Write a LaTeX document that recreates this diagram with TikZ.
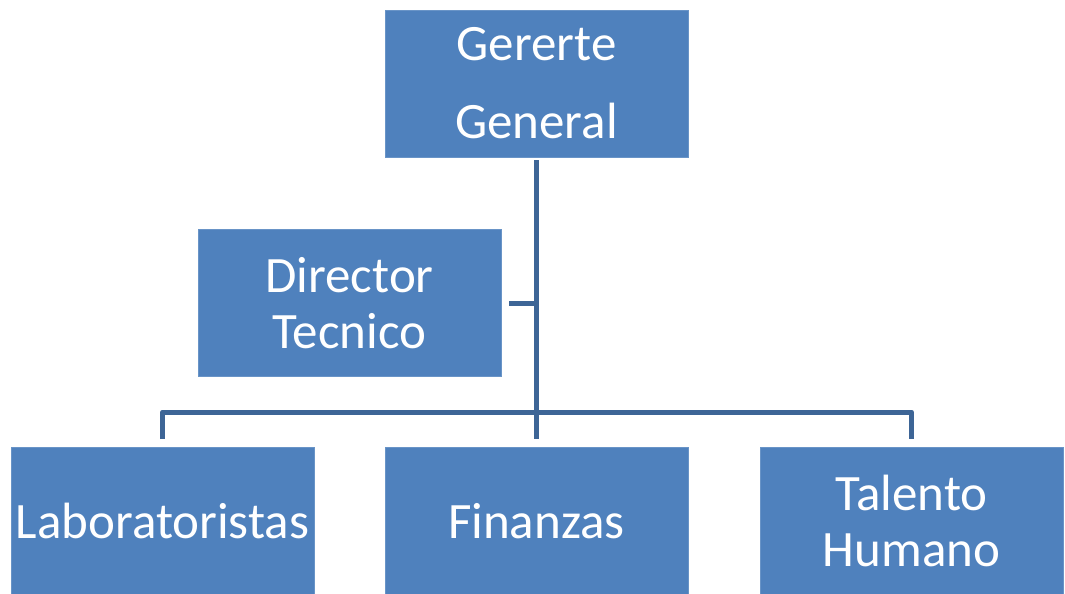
\documentclass[tikz,border=0pt]{standalone}
\usepackage{fontspec}
\setmainfont{Carlito}
\usetikzlibrary{positioning,calc}
\definecolor{boxblue}{HTML}{4F81BD}
\definecolor{lineblue}{HTML}{3D6596}
\tikzset{
  orgbox/.style={fill=boxblue, draw=boxblue!85!white, line width=0.8pt, text=white, align=center,
    minimum width=303pt, minimum height=147pt, inner sep=0pt, font=\fontsize{51}{56}\selectfont},
  orgline/.style={draw=lineblue, line width=5pt, line join=round}
}
\begin{document}
\begin{tikzpicture}[x=1pt,y=-1pt]
\useasboundingbox (0,0) rectangle (1065,594);
\node[orgbox] (gerente) at (536.5,83.5) {Gererte\\[22pt]General};
\node[orgbox] (director) at (349.5,303) {Director\\Tecnico};
\node[orgbox] (labor) at (162.5,521) {Laboratoristas};
\node[orgbox] (finanzas) at (536.5,521) {Finanzas};
\node[orgbox] (talento) at (911.5,521) {Talento\\Humano};
\coordinate (bar) at (536.5,412);
\draw[orgline, shorten <=3pt, shorten >=8pt] (gerente.south) -- (finanzas.north);
\draw[orgline, shorten <=8pt] (director.east) -- (director.east -| gerente.south);
\draw[orgline] ([yshift=8pt]labor.north) |- (bar) -| ([yshift=8pt]talento.north);
\end{tikzpicture}
\end{document}
